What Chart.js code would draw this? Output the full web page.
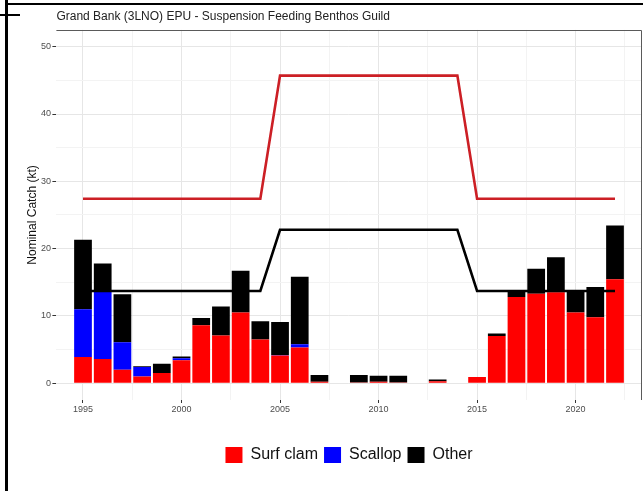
<!DOCTYPE html>
<html>
<head>
<meta charset="utf-8">
<title>Suspension Feeding Benthos Guild</title>
<script src="https://cdn.jsdelivr.net/npm/chart.js@4.4.1/dist/chart.umd.min.js"></script>
<style>
    html, body { margin: 0; padding: 0; background: #fff; }
    #wrap { position: relative; width: 643px; height: 491px; overflow: hidden; }
    #wrap canvas { position: absolute; left: 0; top: 0; }
    .edge { position: absolute; background: #000; }
</style>
</head>
<body>
<div id="wrap">
    <canvas id="catchChart" width="643" height="491"></canvas>
    <div class="edge" style="left:5px; top:0; width:3px; height:491px;"></div>
    <div class="edge" style="left:5px; top:3px; width:638px; height:2px;"></div>
    <div class="edge" style="left:0; top:14px; width:20px; height:2px;"></div>
</div>
<script>
// ===== DATA =====
const years = [1995, 1996, 1997, 1998, 1999, 2000, 2001, 2002, 2003, 2004,
               2005, 2006, 2007, 2008, 2009, 2010, 2011, 2012, 2013, 2014,
               2015, 2016, 2017, 2018, 2019, 2020, 2021, 2022];

// Nominal catch (kt) by group
const surfClam = [3.9, 3.6, 2.0, 1.0, 1.5, 3.4, 8.6, 7.1, 10.5, 6.5,
                  4.1, 5.3, 0.2, 0, 0.1, 0.2, 0.1, 0, 0.3, 0,
                  0.9, 7.0, 12.8, 13.3, 13.5, 10.5, 9.8, 15.45];
const scallop = [7.1, 10.0, 4.1, 1.4, 0, 0.3, 0, 0, 0, 0,
                 0.1, 0.5, 0, 0, 0, 0, 0, 0, 0, 0,
                 0, 0, 0, 0, 0, 0, 0, 0];
const other = [10.3, 4.2, 7.1, 0.1, 1.4, 0.26, 1.1, 4.3, 6.2, 2.7,
               4.9, 10.0, 1.0, 0, 1.1, 0.9, 1.0, 0, 0.25, 0,
               0, 0.4, 0.9, 3.7, 5.2, 3.3, 4.5, 8.0];

// Reference lines (kt)
const upperRef = [27.4, 27.4, 27.4, 27.4, 27.4, 27.4, 27.4, 27.4, 27.4, 27.4,
                  45.7, 45.7, 45.7, 45.7, 45.7, 45.7, 45.7, 45.7, 45.7, 45.7,
                  27.4, 27.4, 27.4, 27.4, 27.4, 27.4, 27.4, 27.4];
const lowerRef = [13.7, 13.7, 13.7, 13.7, 13.7, 13.7, 13.7, 13.7, 13.7, 13.7,
                  22.8, 22.8, 22.8, 22.8, 22.8, 22.8, 22.8, 22.8, 22.8, 22.8,
                  13.7, 13.7, 13.7, 13.7, 13.7, 13.7, 13.7, 13.7];

// Axis ticks (major + minor grid positions)
const xTicks = [1995, 1997.5, 2000, 2002.5, 2005, 2007.5, 2010, 2012.5, 2015, 2017.5, 2020, 2022.5];
const yTicks = [0, 5, 10, 15, 20, 25, 30, 35, 40, 45, 50];

const FONT = "'Liberation Sans', Arial, sans-serif";

// ===== PANEL BORDER (top + right edge) =====
const panelEdge = {
    id: 'panelEdge',
    afterDraw(chart) {
        const { ctx, chartArea: a } = chart;
        ctx.save();
        ctx.strokeStyle = '#5a5a5a';
        ctx.lineWidth = 1;
        ctx.beginPath();
        ctx.moveTo(a.left, Math.round(a.top) + 0.5);
        ctx.lineTo(Math.round(a.right) - 0.5, Math.round(a.top) + 0.5);
        ctx.lineTo(Math.round(a.right) - 0.5, a.bottom);
        ctx.stroke();
        ctx.restore();
    }
};

const tickVal = ctx => (ctx.tick ? ctx.tick.value : NaN);
const isMajorX = v => v % 5 === 0;
const isMajorY = v => v % 10 === 0;

new Chart(document.getElementById('catchChart'), {
    type: 'bar',
    data: {
        labels: years,
        datasets: [
            { type: 'line', label: 'upper', data: upperRef, stack: 'l1', order: 1,
              borderColor: '#cc1f25', borderWidth: 2.6, pointRadius: 0, fill: false, tension: 0 },
            { type: 'line', label: 'lower', data: lowerRef, stack: 'l2', order: 1,
              borderColor: '#000000', borderWidth: 2.6, pointRadius: 0, fill: false, tension: 0 },
            { label: 'Surf clam', data: surfClam, stack: 'catch', order: 2, backgroundColor: '#ff0000',
              barPercentage: 0.9, categoryPercentage: 1 },
            { label: 'Scallop', data: scallop, stack: 'catch', order: 2, backgroundColor: '#0000ff',
              barPercentage: 0.9, categoryPercentage: 1 },
            { label: 'Other', data: other, stack: 'catch', order: 2, backgroundColor: '#000000',
              barPercentage: 0.9, categoryPercentage: 1 }
        ]
    },
    options: {
        responsive: false,
        animation: false,
        layout: { padding: { left: 25, right: 1.4, top: 0, bottom: 18 } },
        plugins: {
            title: {
                display: true,
                text: 'Grand Bank (3LNO) EPU - Suspension Feeding Benthos Guild',
                align: 'start',
                fullSize: false,
                color: '#222',
                font: { family: FONT, size: 12, weight: 'normal' },
                padding: { top: 9.5, bottom: 6 }
            },
            legend: {
                position: 'bottom',
                fullSize: false,
                labels: {
                    filter: item => item.datasetIndex >= 2,
                    boxWidth: 17,
                    boxHeight: 16,
                    padding: 6,
                    color: '#111',
                    font: { family: FONT, size: 16 }
                }
            },
            tooltip: { enabled: false }
        },
        scales: {
            x: {
                type: 'linear',
                offset: false,
                min: 1993.65,
                max: 2023.35,
                afterBuildTicks: scale => { scale.ticks = xTicks.map(v => ({ value: v })); },
                afterFit: scale => { scale.height = 41; },
                border: { display: false },
                grid: {
                    offset: false,
                    color: ctx => isMajorX(tickVal(ctx)) ? '#e6e6e6' : '#f3f3f3',
                    tickColor: ctx => isMajorX(tickVal(ctx)) ? '#333' : 'rgba(0,0,0,0)',
                    tickLength: 3
                },
                ticks: {
                    autoSkip: false,
                    maxRotation: 0,
                    padding: 1,
                    color: '#4d4d4d',
                    font: { family: FONT, size: 9 },
                    callback: v => isMajorX(v) ? String(v) : ''
                }
            },
            y: {
                stacked: true,
                min: -2.5,
                max: 52.5,
                afterBuildTicks: scale => { scale.ticks = yTicks.map(v => ({ value: v })); },
                afterFit: scale => { scale.width = 31.4; },
                border: { display: false },
                grid: {
                    color: ctx => isMajorY(tickVal(ctx)) ? '#e6e6e6' : '#f3f3f3',
                    tickColor: ctx => isMajorY(tickVal(ctx)) ? '#333' : 'rgba(0,0,0,0)',
                    tickLength: 4
                },
                ticks: {
                    padding: 1.5,
                    color: '#4d4d4d',
                    font: { family: FONT, size: 9 },
                    callback: v => isMajorY(v) ? String(v) : ''
                },
                title: {
                    display: true,
                    text: 'Nominal Catch (kt)',
                    color: '#111',
                    font: { family: FONT, size: 12 },
                    padding: 0
                }
            }
        }
    },
    plugins: [panelEdge]
});
</script>
</body>
</html>
